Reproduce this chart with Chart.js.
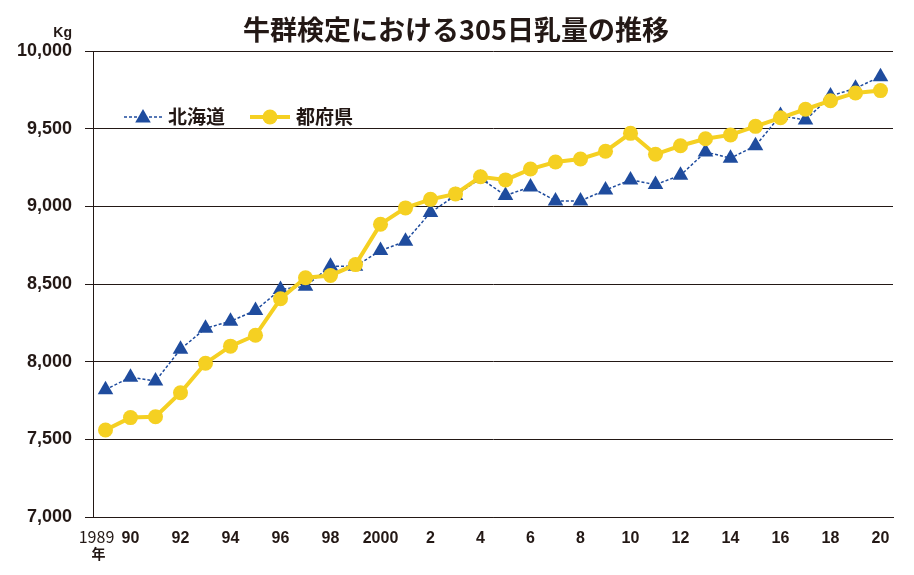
<!DOCTYPE html>
<html lang="ja">
<head>
<meta charset="utf-8">
<script src="https://cdn.jsdelivr.net/npm/chart.js@4.4.1/dist/chart.umd.min.js"></script>
<style>
html, body { margin: 0; padding: 0; background: #fff; }
#wrap { width: 914px; height: 575px; position: relative; }
</style>
</head>
<body>
<div id="wrap"><canvas id="chartLeche"></canvas></div>
<script>
// Datos (kg por vaca, 305 días)
const titulo = '牛群検定における305日乳量の推移';
const anios = ['1989', '90', '', '92', '', '94', '', '96', '', '98', '', '2000', '', '2', '', '4',
               '', '6', '', '8', '', '10', '', '12', '', '14', '', '16', '', '18', '', '20'];
const hokkaido = [7820, 7900, 7875, 8080, 8215, 8260, 8330, 8465, 8485, 8615, 8615, 8715, 8775, 8960, 9070, 9180,
                  9070, 9125, 9035, 9035, 9105, 9170, 9140, 9200, 9350, 9310, 9390, 9585, 9555, 9710, 9760, 9835];
const tofuken = [7560, 7640, 7645, 7800, 7990, 8100, 8170, 8405, 8540, 8555, 8625, 8885, 8990, 9045, 9080, 9190,
                 9170, 9240, 9285, 9305, 9355, 9470, 9335, 9390, 9435, 9460, 9515, 9570, 9625, 9680, 9730, 9745];
const nombres = ['北海道', '都府県'];

const AZUL = '#1f4c9e';
const AMARILLO = '#f5d022';
const TINTA = '#231815';
const NUM = "'Liberation Sans', Arial, sans-serif";

// Título, unidad, primer año y leyenda dibujados a mano
const rotulos = {
    id: 'rotulos',
    afterDraw(chart) {
        const ctx = chart.ctx;
        const ejeX = chart.scales.x;
        ctx.save();
        ctx.fillStyle = TINTA;

        ctx.font = "bold 27px 'Noto Sans CJK JP'";
        ctx.textAlign = 'center';
        ctx.textBaseline = 'middle';
        ctx.fillText(titulo, 456, 30);

        ctx.font = 'bold 14px ' + NUM;
        ctx.textAlign = 'right';
        ctx.fillText('Kg', 72, 33);

        // 1989 en letra fina, corrido a la izquierda, y 年 debajo
        const x0 = ejeX.getPixelForValue(0);
        ctx.textAlign = 'center';
        ctx.font = "16px 'Noto Sans CJK JP'";
        ctx.fillText(anios[0], x0 - 9, 537);
        ctx.font = "bold 14px 'Noto Sans CJK JP'";
        ctx.fillText('年', x0 - 7, 554);

        // Leyenda
        const yl = 117;
        ctx.strokeStyle = AZUL;
        ctx.lineWidth = 1.5;
        ctx.setLineDash([3, 2]);
        ctx.beginPath(); ctx.moveTo(124, yl); ctx.lineTo(163, yl); ctx.stroke();
        ctx.setLineDash([]);
        ctx.fillStyle = AZUL;
        Chart.helpers.drawPoint(ctx, { pointStyle: 'triangle', radius: 9, rotation: 0 }, 143, yl + 1);

        ctx.strokeStyle = AMARILLO;
        ctx.lineWidth = 4;
        ctx.beginPath(); ctx.moveTo(250, yl); ctx.lineTo(290, yl); ctx.stroke();
        ctx.fillStyle = AMARILLO;
        ctx.beginPath(); ctx.arc(270, yl, 7.5, 0, Math.PI * 2); ctx.fill();

        ctx.fillStyle = TINTA;
        ctx.font = "bold 19px 'Noto Sans CJK JP'";
        ctx.textAlign = 'left';
        ctx.fillText(nombres[0], 168, yl);
        ctx.fillText(nombres[1], 296, yl);
        ctx.restore();
    }
};

new Chart(document.getElementById('chartLeche'), {
    type: 'line',
    data: {
        labels: anios,
        datasets: [{
            label: nombres[0],
            data: hokkaido,
            borderColor: AZUL,
            backgroundColor: AZUL,
            borderWidth: 1.5,
            borderDash: [3, 2],
            pointStyle: 'triangle',
            pointRadius: 9,
            pointBorderWidth: 0,
            tension: 0,
            order: 1
        }, {
            label: nombres[1],
            data: tofuken,
            borderColor: AMARILLO,
            backgroundColor: AMARILLO,
            borderWidth: 4,
            pointStyle: 'circle',
            pointRadius: 7.5,
            pointBorderWidth: 0,
            tension: 0,
            order: 0
        }]
    },
    options: {
        responsive: true,
        maintainAspectRatio: false,
        animation: false,
        layout: { padding: { top: 51, right: 21, bottom: 0, left: 0 } },
        plugins: {
            legend: { display: false },
            title: { display: false },
            tooltip: { enabled: false }
        },
        scales: {
            x: {
                offset: true,
                afterFit: function(scale) { scale.height = 58; },
                grid: { display: false, drawTicks: false },
                border: { display: true, color: TINTA, width: 1 },
                ticks: {
                    autoSkip: false,
                    maxRotation: 0,
                    padding: 12,
                    color: TINTA,
                    font: { family: NUM, size: 16, weight: 'bold' },
                    callback: function(v, i) { return i === 0 ? '' : anios[i]; }
                }
            },
            y: {
                min: 7000,
                max: 10000,
                afterFit: function(scale) { scale.width = 93; },
                grid: { color: TINTA, lineWidth: 1, tickLength: 8, drawTicks: true },
                border: { display: true, color: TINTA, width: 1 },
                ticks: {
                    stepSize: 500,
                    padding: 13,
                    color: TINTA,
                    font: { family: NUM, size: 18, weight: 'bold' },
                    callback: function(v) { return v.toLocaleString('en-US'); }
                }
            }
        }
    },
    plugins: [rotulos]
});
</script>
</body>
</html>
